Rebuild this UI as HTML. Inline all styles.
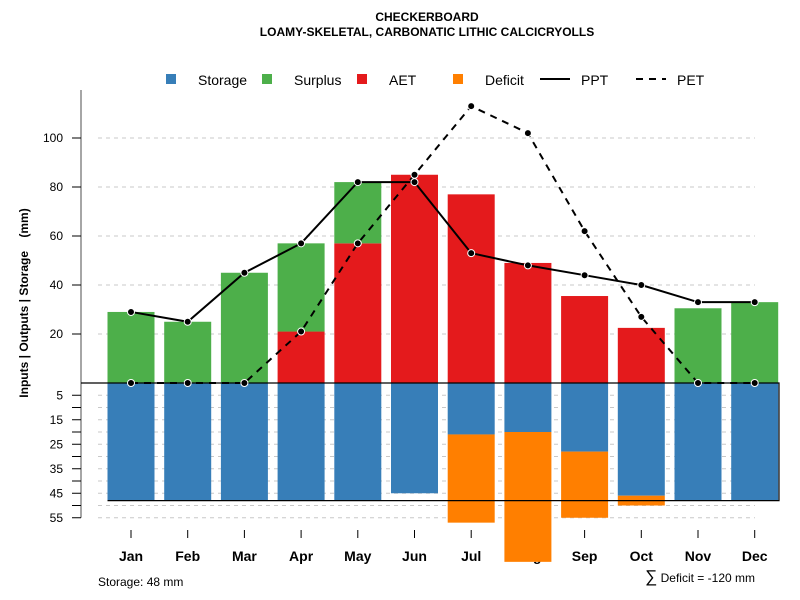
<!DOCTYPE html>
<html><head><meta charset="utf-8"><style>
body{margin:0;background:#fff;}
svg{display:block;font-family:"Liberation Sans",Arial,sans-serif;}
</style></head><body>
<svg id="c" width="800" height="600" viewBox="0 0 800 600">
<text x="427" y="21" text-anchor="middle" font-size="12" font-weight="bold">CHECKERBOARD</text>
<text x="427" y="36" text-anchor="middle" font-size="12" font-weight="bold">LOAMY-SKELETAL, CARBONATIC LITHIC CALCICRYOLLS</text>
<g id="legend" font-size="14">
<g><rect x="166" y="74" width="10" height="10" fill="#377eb8"/><text x="198" y="85">Storage</text></g>
<g><rect x="262" y="74" width="10" height="10" fill="#4daf4a"/><text x="294" y="85">Surplus</text></g>
<g><rect x="357" y="74" width="10" height="10" fill="#e41a1c"/><text x="389" y="85">AET</text></g>
<g><rect x="453" y="74" width="10" height="10" fill="#ff7f00"/><text x="485" y="85">Deficit</text></g>
<g><line x1="540" y1="79" x2="570" y2="79" stroke="#000" stroke-width="2"/><text x="581" y="85">PPT</text></g>
<g><line x1="636" y1="79" x2="666" y2="79" stroke="#000" stroke-width="2" stroke-dasharray="7,6"/><text x="677" y="85">PET</text></g>
</g>
<text transform="translate(28,303) rotate(-90)" text-anchor="middle" font-size="12" font-weight="bold" style="white-space:pre">Inputs | Outputs | Storage    (mm)</text>
<text x="98" y="586" font-size="12">Storage: 48 mm</text>
<text x="755" y="582" text-anchor="end" font-size="12"><tspan font-size="17">∑</tspan> Deficit = -120 mm</text>
<g id="plot"></g>
</svg>
<script>
const months=["Jan","Feb","Mar","Apr","May","Jun","Jul","Aug","Sep","Oct","Nov","Dec"];
const ppt=[29,25,45,57,82,82,53,48,44,40,33,33];
const pet=[0,0,0,21,57,85,113,102,62,27,0,0];
const aet=[0,0,0,21,57,85,77,49,35.5,22.5,0,0];
const surplus=[29,25,45,36,25,0,0,0,0,0,30.5,33];
const storage=[48,48,48,48,48,45,21,20,28,46,48,48];
const deficit=[0,0,0,0,0,0,36,53,27,4,0,0];
const upTicks=[20,40,60,80,100];
const downTicks=[5,15,25,35,45,55];
const capacity=48;
const NS="http://www.w3.org/2000/svg";
const g=document.getElementById("plot");
const y0=383,k=2.45;
const yUp=v=>y0-v*k, yDn=v=>y0+v*k;
const xc=i=>131+i*56.7;
const bw=47;
function el(t,a,p){const e=document.createElementNS(NS,t);for(const n in a)e.setAttribute(n,a[n]);(p||g).appendChild(e);return e;}
upTicks.forEach(v=>{const l=el("line",{x1:98,x2:755,y1:yUp(v),y2:yUp(v),stroke:"#c8c8c8","stroke-dasharray":"4,4"});

});
for(let v=5;v<=55;v+=5){const l=el("line",{x1:98,x2:755,y1:yDn(v),y2:yDn(v),stroke:"#c8c8c8","stroke-dasharray":"4,4"});

}
const ax=el("line",{x1:81,x2:81,y1:90,y2:yDn(55),stroke:"#888","stroke-width":1.5});


upTicks.forEach(v=>{el("line",{x1:72,x2:81,y1:yUp(v),y2:yUp(v),stroke:"#000"});
const t=el("text",{x:63,y:yUp(v)+4,"text-anchor":"end","font-size":12});t.textContent=v;

});
for(let v=5;v<=55;v+=5){el("line",{x1:72,x2:81,y1:yDn(v),y2:yDn(v),stroke:"#000"});}
downTicks.forEach(v=>{const t=el("text",{x:63,y:yDn(v)+4,"text-anchor":"end","font-size":12});t.textContent=v;

});
months.forEach((m,i)=>{el("line",{x1:xc(i),x2:xc(i),y1:530,y2:538,stroke:"#000"});
const t=el("text",{x:xc(i),y:561,"text-anchor":"middle","font-size":14,"font-weight":"bold"});t.textContent=m;

});
months.forEach((m,i)=>{const x=xc(i)-bw/2;
if(aet[i]>0){const r=el("rect",{x:x,y:yUp(aet[i]),width:bw,height:aet[i]*k,fill:"#e41a1c"});

}
if(surplus[i]>0){const r=el("rect",{x:x,y:yUp(aet[i]+surplus[i]),width:bw,height:surplus[i]*k,fill:"#4daf4a"});

}
const s=el("rect",{x:x,y:y0,width:bw,height:storage[i]*k,fill:"#377eb8"});


if(deficit[i]>0){const d=el("rect",{x:x,y:yDn(storage[i]),width:bw,height:deficit[i]*k,fill:"#ff7f00"});

}
});
const bx=el("path",{d:`M81 ${y0} H779 V${yDn(capacity)} H${xc(0)-bw/2}`,fill:"none",stroke:"#000","stroke-width":1.2});


function line(arr,dash,name){const d=arr.map((v,i)=>(i?"L":"M")+xc(i)+" "+yUp(v)).join(" ");
const p=el("path",{d:d,fill:"none",stroke:"#000","stroke-width":2,"stroke-dasharray":dash});


arr.forEach((v,i)=>{const c=el("circle",{cx:xc(i),cy:yUp(v),r:3.5,fill:"#000",stroke:"#fff","stroke-width":1});

});}
line(pet,"7,6","pet-line");
line(ppt,"none","ppt-line");
</script>
</body></html>
